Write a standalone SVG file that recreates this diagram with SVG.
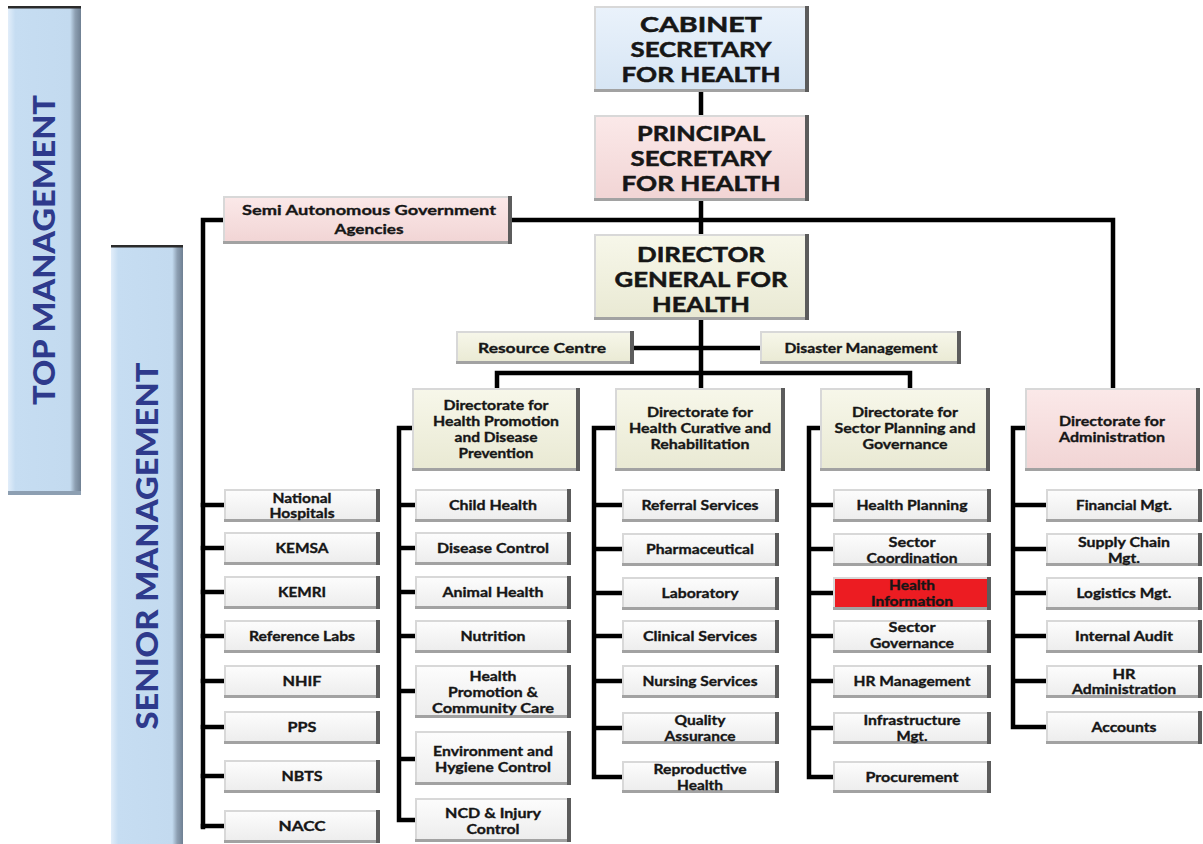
<svg xmlns="http://www.w3.org/2000/svg" width="1203" height="844" viewBox="0 0 1203 844">
  <style>
    .t { font-family: Lato, "Open Sans", "Liberation Sans", sans-serif; font-weight: 700; fill: #161616; stroke: #161616; stroke-width: 0.35; text-anchor: middle; }
    .hd { font-size: 20px; stroke-width: 0.5; }
    .md { font-size: 14px; }
    .sm { font-size: 14px; }
    .bt { font-family: Lato, "Open Sans", "Liberation Sans", sans-serif; font-weight: 900; font-size: 30px; fill: #2e3a8c; text-anchor: middle; }
    .box { filter: url(#bevel); }
    .leaf { fill: url(#gLeaf); }
    .cream { fill: url(#gCream); }
    .pink { fill: url(#gPink); }
    .blue { fill: url(#gBlue); }
    .red { fill: #ec1c24; }
    .conn { stroke: #000; stroke-width: 4.5; fill: none; stroke-linecap: square; }
  </style>
  <defs>
    <linearGradient id="gLeaf" x1="0" y1="0" x2="0" y2="1">
      <stop offset="0" stop-color="#fdfdfd"/>
      <stop offset="1" stop-color="#ececec"/>
    </linearGradient>
    <linearGradient id="gCream" x1="0" y1="0" x2="0" y2="1">
      <stop offset="0" stop-color="#f7f7ea"/>
      <stop offset="1" stop-color="#e9e9d3"/>
    </linearGradient>
    <linearGradient id="gPink" x1="0" y1="0" x2="0" y2="1">
      <stop offset="0" stop-color="#fbe9e9"/>
      <stop offset="1" stop-color="#f1d4d4"/>
    </linearGradient>
    <linearGradient id="gBlue" x1="0" y1="0" x2="0" y2="1">
      <stop offset="0" stop-color="#eaf2fb"/>
      <stop offset="1" stop-color="#d6e5f4"/>
    </linearGradient>
    <linearGradient id="gBar" x1="0" y1="0" x2="1" y2="0">
      <stop offset="0" stop-color="#e2eefa"/>
      <stop offset="0.1" stop-color="#c6ddf2"/>
      <stop offset="0.85" stop-color="#c3daef"/>
      <stop offset="0.92" stop-color="#8d9fb2"/>
      <stop offset="1" stop-color="#6f8093"/>
    </linearGradient>
    <!-- raised-panel edges: light top/left, grey bottom, dark right -->
    <filter id="bevel" x="-5%" y="-10%" width="110%" height="120%">
      <feOffset in="SourceAlpha" dx="-4" dy="0" result="oR"/>
      <feComposite in="SourceAlpha" in2="oR" operator="out" result="eR"/>
      <feFlood flood-color="#5c5c5c"/>
      <feComposite in2="eR" operator="in" result="dR"/>
      <feOffset in="SourceAlpha" dx="0" dy="-3" result="oB"/>
      <feComposite in="SourceAlpha" in2="oB" operator="out" result="eB"/>
      <feFlood flood-color="#a2a2a2"/>
      <feComposite in2="eB" operator="in" result="dB"/>
      <feOffset in="SourceAlpha" dx="2" dy="2" result="oT"/>
      <feComposite in="SourceAlpha" in2="oT" operator="out" result="eT"/>
      <feFlood flood-color="#d8d8d8"/>
      <feComposite in2="eT" operator="in" result="lT"/>
      <feMerge>
        <feMergeNode in="SourceGraphic"/>
        <feMergeNode in="lT"/>
        <feMergeNode in="dB"/>
        <feMergeNode in="dR"/>
      </feMerge>
    </filter>
  </defs>

  <rect width="1203" height="844" fill="#ffffff"/>

  <!-- level bands -->
  <g id="band-top">
    <rect x="8" y="6" width="73" height="489" fill="url(#gBar)"/>
    <rect x="8" y="6" width="73" height="2.5" fill="#2b2b2b"/>
    <rect x="8" y="491" width="73" height="4" fill="#8d9fb2"/>
    <text class="bt" transform="translate(44,250) rotate(-90)" y="11" textLength="310" lengthAdjust="spacingAndGlyphs">TOP MANAGEMENT</text>
  </g>
  <g id="band-senior">
    <rect x="111" y="245" width="72" height="605" fill="url(#gBar)"/>
    <rect x="111" y="245" width="72" height="2.5" fill="#2b2b2b"/>
    <text class="bt" transform="translate(147,546) rotate(-90)" y="11" textLength="367" lengthAdjust="spacingAndGlyphs">SENIOR MANAGEMENT</text>
  </g>

  <!-- connectors -->
  <g id="connectors">
    <path class="conn" d="M701 92V115 M701 201V234 M203 220H1113 M203 220V827 M1113 220V388"/>
    <path class="conn" d="M203 505H224 M203 548H224 M203 592H224 M203 636H224 M203 681H224 M203 727H224 M203 776H224 M203 826H224"/>
    <path class="conn" d="M701 320V388 M636 348H760 M497 373H910 M497 373V388 M910 373V388"/>
    <path class="conn" d="M412 428H399V820 M399 505H415 M399 548H415 M399 592H415 M399 636H415 M399 691H415 M399 759H415 M399 820H415"/>
    <path class="conn" d="M615 428H594V777 M594 505H622 M594 549H622 M594 593H622 M594 636H622 M594 681H622 M594 728H622 M594 777H622"/>
    <path class="conn" d="M820 428H809V777 M809 505H833 M809 549H833 M809 593H833 M809 636H833 M809 681H833 M809 728H833 M809 777H833"/>
    <path class="conn" d="M1025 428H1013V727 M1013 505H1046 M1013 549H1046 M1013 593H1046 M1013 636H1046 M1013 681H1046 M1013 727H1046"/>
  </g>

  <!-- top management -->
  <g id="cabinet-secretary">
    <rect class="box blue" x="594" y="6" width="215" height="86"/>
    <text class="t hd" x="701" y="32" textLength="122" lengthAdjust="spacingAndGlyphs">CABINET</text>
    <text class="t hd" x="701" y="57" textLength="141" lengthAdjust="spacingAndGlyphs">SECRETARY</text>
    <text class="t hd" x="701" y="82" textLength="159" lengthAdjust="spacingAndGlyphs">FOR HEALTH</text>
  </g>
  <g id="principal-secretary">
    <rect class="box pink" x="594" y="115" width="215" height="86"/>
    <text class="t hd" x="701" y="141" textLength="128" lengthAdjust="spacingAndGlyphs">PRINCIPAL</text>
    <text class="t hd" x="701" y="166" textLength="141" lengthAdjust="spacingAndGlyphs">SECRETARY</text>
    <text class="t hd" x="701" y="191" textLength="159" lengthAdjust="spacingAndGlyphs">FOR HEALTH</text>
  </g>
  <g id="sagas">
    <rect class="box pink" x="223" y="196" width="289" height="48"/>
    <text class="t md" x="369" y="215" textLength="254" lengthAdjust="spacingAndGlyphs">Semi Autonomous Government</text>
    <text class="t md" x="369" y="234" textLength="69" lengthAdjust="spacingAndGlyphs">Agencies</text>
  </g>
  <g id="director-general">
    <rect class="box cream" x="594" y="234" width="215" height="86"/>
    <text class="t hd" x="701" y="262" textLength="128" lengthAdjust="spacingAndGlyphs">DIRECTOR</text>
    <text class="t hd" x="701" y="287" textLength="173" lengthAdjust="spacingAndGlyphs">GENERAL FOR</text>
    <text class="t hd" x="701" y="312" textLength="98" lengthAdjust="spacingAndGlyphs">HEALTH</text>
  </g>
  <g id="resource-centre">
    <rect class="box cream" x="456" y="331" width="178" height="33"/>
    <text class="t md" x="542" y="353" textLength="128" lengthAdjust="spacingAndGlyphs">Resource Centre</text>
  </g>
  <g id="disaster-management">
    <rect class="box cream" x="760" y="331" width="201" height="33"/>
    <text class="t md" x="861" y="353" textLength="153" lengthAdjust="spacingAndGlyphs">Disaster Management</text>
  </g>

  <!-- directorates -->
  <g id="dir-promotion">
    <rect class="box cream" x="412" y="388" width="168" height="83"/>
    <text class="t sm" x="496" y="410" textLength="105" lengthAdjust="spacingAndGlyphs">Directorate for</text>
    <text class="t sm" x="496" y="426" textLength="126" lengthAdjust="spacingAndGlyphs">Health Promotion</text>
    <text class="t sm" x="496" y="442" textLength="83" lengthAdjust="spacingAndGlyphs">and Disease</text>
    <text class="t sm" x="496" y="458" textLength="75" lengthAdjust="spacingAndGlyphs">Prevention</text>
  </g>
  <g id="dir-curative">
    <rect class="box cream" x="615" y="388" width="170" height="83"/>
    <text class="t sm" x="700" y="417" textLength="106" lengthAdjust="spacingAndGlyphs">Directorate for</text>
    <text class="t sm" x="700" y="433" textLength="142" lengthAdjust="spacingAndGlyphs">Health Curative and</text>
    <text class="t sm" x="700" y="449" textLength="99" lengthAdjust="spacingAndGlyphs">Rehabilitation</text>
  </g>
  <g id="dir-planning">
    <rect class="box cream" x="820" y="388" width="170" height="83"/>
    <text class="t sm" x="905" y="417" textLength="106" lengthAdjust="spacingAndGlyphs">Directorate for</text>
    <text class="t sm" x="905" y="433" textLength="141" lengthAdjust="spacingAndGlyphs">Sector Planning and</text>
    <text class="t sm" x="905" y="449" textLength="85" lengthAdjust="spacingAndGlyphs">Governance</text>
  </g>
  <g id="dir-administration">
    <rect class="box pink" x="1025" y="388" width="175" height="83"/>
    <text class="t sm" x="1112" y="426" textLength="106" lengthAdjust="spacingAndGlyphs">Directorate for</text>
    <text class="t sm" x="1112" y="442" textLength="106" lengthAdjust="spacingAndGlyphs">Administration</text>
  </g>

  <!-- semi autonomous agencies -->
  <g id="national-hospitals"><rect class="box leaf" x="224" y="489" width="156" height="33"/>
    <text class="t sm" x="302" y="503" textLength="59" lengthAdjust="spacingAndGlyphs">National</text>
    <text class="t sm" x="302" y="518" textLength="65" lengthAdjust="spacingAndGlyphs">Hospitals</text></g>
  <g id="kemsa"><rect class="box leaf" x="224" y="532" width="156" height="33"/>
    <text class="t sm" x="302" y="553" textLength="53" lengthAdjust="spacingAndGlyphs">KEMSA</text></g>
  <g id="kemri"><rect class="box leaf" x="224" y="576" width="156" height="33"/>
    <text class="t sm" x="302" y="597" textLength="48" lengthAdjust="spacingAndGlyphs">KEMRI</text></g>
  <g id="reference-labs"><rect class="box leaf" x="224" y="620" width="156" height="33"/>
    <text class="t sm" x="302" y="641" textLength="106" lengthAdjust="spacingAndGlyphs">Reference Labs</text></g>
  <g id="nhif"><rect class="box leaf" x="224" y="665" width="156" height="33"/>
    <text class="t sm" x="302" y="686" textLength="39" lengthAdjust="spacingAndGlyphs">NHIF</text></g>
  <g id="pps"><rect class="box leaf" x="224" y="711" width="156" height="33"/>
    <text class="t sm" x="302" y="732" textLength="29" lengthAdjust="spacingAndGlyphs">PPS</text></g>
  <g id="nbts"><rect class="box leaf" x="224" y="760" width="156" height="33"/>
    <text class="t sm" x="302" y="781" textLength="41" lengthAdjust="spacingAndGlyphs">NBTS</text></g>
  <g id="nacc"><rect class="box leaf" x="224" y="810" width="156" height="33"/>
    <text class="t sm" x="302" y="831" textLength="47" lengthAdjust="spacingAndGlyphs">NACC</text></g>

  <!-- health promotion and disease prevention -->
  <g id="child-health"><rect class="box leaf" x="415" y="489" width="156" height="33"/>
    <text class="t sm" x="493" y="510" textLength="88" lengthAdjust="spacingAndGlyphs">Child Health</text></g>
  <g id="disease-control"><rect class="box leaf" x="415" y="532" width="156" height="33"/>
    <text class="t sm" x="493" y="553" textLength="112" lengthAdjust="spacingAndGlyphs">Disease Control</text></g>
  <g id="animal-health"><rect class="box leaf" x="415" y="576" width="156" height="33"/>
    <text class="t sm" x="493" y="597" textLength="101" lengthAdjust="spacingAndGlyphs">Animal Health</text></g>
  <g id="nutrition"><rect class="box leaf" x="415" y="620" width="156" height="33"/>
    <text class="t sm" x="493" y="641" textLength="65" lengthAdjust="spacingAndGlyphs">Nutrition</text></g>
  <g id="health-promotion"><rect class="box leaf" x="415" y="665" width="156" height="53"/>
    <text class="t sm" x="493" y="681" textLength="47" lengthAdjust="spacingAndGlyphs">Health</text>
    <text class="t sm" x="493" y="697" textLength="90" lengthAdjust="spacingAndGlyphs">Promotion &amp;</text>
    <text class="t sm" x="493" y="713" textLength="122" lengthAdjust="spacingAndGlyphs">Community Care</text></g>
  <g id="environment-hygiene"><rect class="box leaf" x="415" y="731" width="156" height="54"/>
    <text class="t sm" x="493" y="756" textLength="120" lengthAdjust="spacingAndGlyphs">Environment and</text>
    <text class="t sm" x="493" y="772" textLength="116" lengthAdjust="spacingAndGlyphs">Hygiene Control</text></g>
  <g id="ncd-injury"><rect class="box leaf" x="415" y="798" width="156" height="44"/>
    <text class="t sm" x="493" y="818" textLength="96" lengthAdjust="spacingAndGlyphs">NCD &amp; Injury</text>
    <text class="t sm" x="493" y="834" textLength="53" lengthAdjust="spacingAndGlyphs">Control</text></g>

  <!-- health curative and rehabilitation -->
  <g id="referral-services"><rect class="box leaf" x="622" y="489" width="157" height="33"/>
    <text class="t sm" x="700" y="510" textLength="117" lengthAdjust="spacingAndGlyphs">Referral Services</text></g>
  <g id="pharmaceutical"><rect class="box leaf" x="622" y="533" width="157" height="33"/>
    <text class="t sm" x="700" y="554" textLength="108" lengthAdjust="spacingAndGlyphs">Pharmaceutical</text></g>
  <g id="laboratory"><rect class="box leaf" x="622" y="577" width="157" height="33"/>
    <text class="t sm" x="700" y="598" textLength="77" lengthAdjust="spacingAndGlyphs">Laboratory</text></g>
  <g id="clinical-services"><rect class="box leaf" x="622" y="620" width="157" height="33"/>
    <text class="t sm" x="700" y="641" textLength="114" lengthAdjust="spacingAndGlyphs">Clinical Services</text></g>
  <g id="nursing-services"><rect class="box leaf" x="622" y="665" width="157" height="33"/>
    <text class="t sm" x="700" y="686" textLength="115" lengthAdjust="spacingAndGlyphs">Nursing Services</text></g>
  <g id="quality-assurance"><rect class="box leaf" x="622" y="712" width="157" height="32"/>
    <text class="t sm" x="700" y="725" textLength="51" lengthAdjust="spacingAndGlyphs">Quality</text>
    <text class="t sm" x="700" y="741" textLength="71" lengthAdjust="spacingAndGlyphs">Assurance</text></g>
  <g id="reproductive-health"><rect class="box leaf" x="622" y="761" width="157" height="32"/>
    <text class="t sm" x="700" y="774" textLength="93" lengthAdjust="spacingAndGlyphs">Reproductive</text>
    <text class="t sm" x="700" y="790" textLength="46" lengthAdjust="spacingAndGlyphs">Health</text></g>

  <!-- sector planning and governance -->
  <g id="health-planning"><rect class="box leaf" x="833" y="489" width="158" height="33"/>
    <text class="t sm" x="912" y="510" textLength="111" lengthAdjust="spacingAndGlyphs">Health Planning</text></g>
  <g id="sector-coordination"><rect class="box leaf" x="833" y="533" width="158" height="33"/>
    <text class="t sm" x="912" y="547" textLength="47" lengthAdjust="spacingAndGlyphs">Sector</text>
    <text class="t sm" x="912" y="563" textLength="91" lengthAdjust="spacingAndGlyphs">Coordination</text></g>
  <g id="health-information"><rect class="box red" x="833" y="577" width="158" height="33"/>
    <text class="t sm" x="912" y="590" textLength="46" lengthAdjust="spacingAndGlyphs">Health</text>
    <text class="t sm" x="912" y="606" textLength="82" lengthAdjust="spacingAndGlyphs">Information</text></g>
  <g id="sector-governance"><rect class="box leaf" x="833" y="620" width="158" height="33"/>
    <text class="t sm" x="912" y="632" textLength="47" lengthAdjust="spacingAndGlyphs">Sector</text>
    <text class="t sm" x="912" y="648" textLength="84" lengthAdjust="spacingAndGlyphs">Governance</text></g>
  <g id="hr-management"><rect class="box leaf" x="833" y="665" width="158" height="33"/>
    <text class="t sm" x="912" y="686" textLength="117" lengthAdjust="spacingAndGlyphs">HR Management</text></g>
  <g id="infrastructure"><rect class="box leaf" x="833" y="712" width="158" height="32"/>
    <text class="t sm" x="912" y="725" textLength="97" lengthAdjust="spacingAndGlyphs">Infrastructure</text>
    <text class="t sm" x="912" y="741" textLength="31" lengthAdjust="spacingAndGlyphs">Mgt.</text></g>
  <g id="procurement"><rect class="box leaf" x="833" y="761" width="158" height="32"/>
    <text class="t sm" x="912" y="782" textLength="93" lengthAdjust="spacingAndGlyphs">Procurement</text></g>

  <!-- administration -->
  <g id="financial-mgt"><rect class="box leaf" x="1046" y="489" width="156" height="33"/>
    <text class="t sm" x="1124" y="510" textLength="96" lengthAdjust="spacingAndGlyphs">Financial Mgt.</text></g>
  <g id="supply-chain"><rect class="box leaf" x="1046" y="533" width="156" height="33"/>
    <text class="t sm" x="1124" y="547" textLength="92" lengthAdjust="spacingAndGlyphs">Supply Chain</text>
    <text class="t sm" x="1124" y="563" textLength="32" lengthAdjust="spacingAndGlyphs">Mgt.</text></g>
  <g id="logistics-mgt"><rect class="box leaf" x="1046" y="577" width="156" height="33"/>
    <text class="t sm" x="1124" y="598" textLength="95" lengthAdjust="spacingAndGlyphs">Logistics Mgt.</text></g>
  <g id="internal-audit"><rect class="box leaf" x="1046" y="620" width="156" height="33"/>
    <text class="t sm" x="1124" y="641" textLength="98" lengthAdjust="spacingAndGlyphs">Internal Audit</text></g>
  <g id="hr-administration"><rect class="box leaf" x="1046" y="665" width="156" height="33"/>
    <text class="t sm" x="1124" y="679" textLength="23" lengthAdjust="spacingAndGlyphs">HR</text>
    <text class="t sm" x="1124" y="694" textLength="104" lengthAdjust="spacingAndGlyphs">Administration</text></g>
  <g id="accounts"><rect class="box leaf" x="1046" y="711" width="156" height="33"/>
    <text class="t sm" x="1124" y="732" textLength="65" lengthAdjust="spacingAndGlyphs">Accounts</text></g>
</svg>
